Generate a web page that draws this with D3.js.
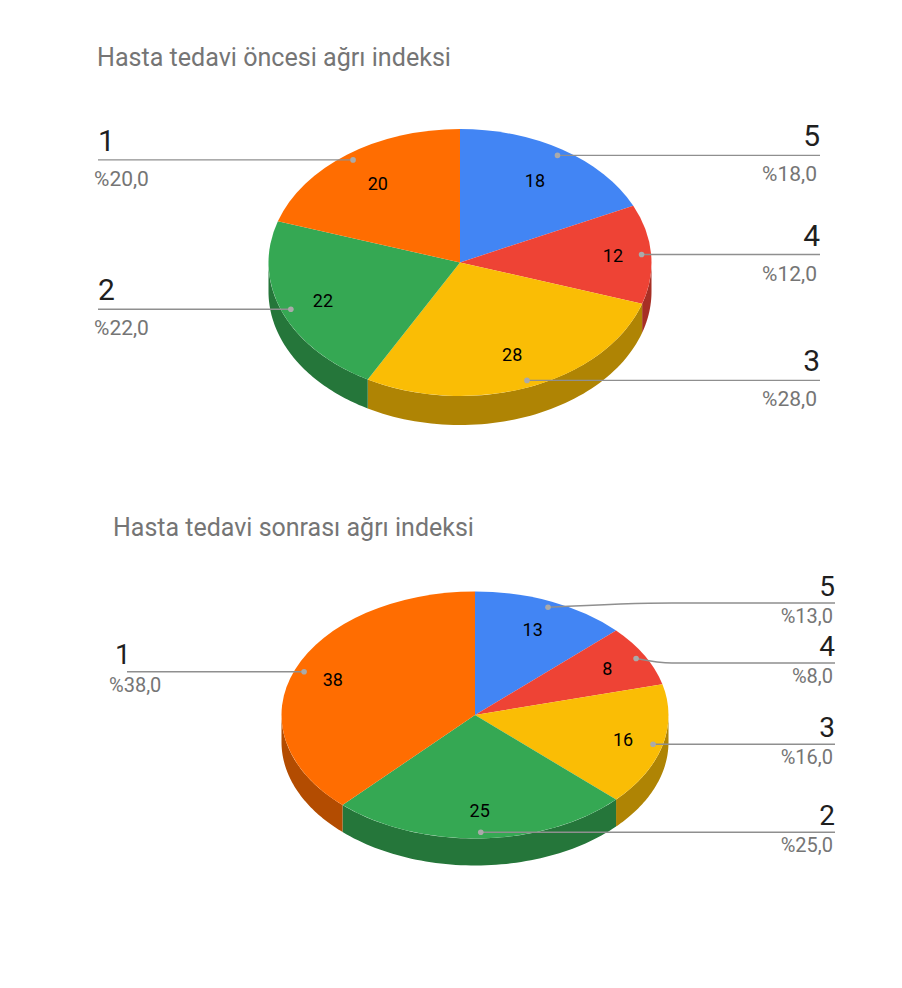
<!DOCTYPE html>
<html>
<head>
<meta charset="utf-8">
<script src="https://cdn.jsdelivr.net/npm/d3@7"></script>
<style>
  html, body { margin: 0; padding: 0; background: #fff; }
  text { font-family: Roboto, sans-serif; }
</style>
</head>
<body>
<svg id="chart" width="902" height="988"></svg>
<script>
// slices run clockwise from 12 o'clock
var categories = ["5", "4", "3", "2", "1"];
var valuesBefore = [18, 12, 28, 22, 20];
var valuesAfter = [13, 8, 16, 25, 38];
var percentBefore = ["%18,0", "%12,0", "%28,0", "%22,0", "%20,0"];
var percentAfter = ["%13,0", "%8,0", "%16,0", "%25,0", "%38,0"];
var colors = ["#4285f4", "#ee4335", "#fabd05", "#35a853", "#ff6d01"];

var charts = [
    {
        title: "Hasta tedavi öncesi ağrı indeksi", titleX: 97, titleY: 66, titleSize: 25.1,
        values: valuesBefore, percents: percentBefore,
        cx: 460, cy: 262.5, rx: 191.5, ry: 133.5, depth: 29,
        valueR: [0.73, 0.80, 0.74, 0.77, 0.73],
        lineY: [155, 255, 381, 309, 160],
        leftX: 98, rightX: 820, bendX: 672, nameDy: -9, pctDy: 26, nameSize: 30, pctSize: 21,
        pctLeftX: 94, pctRightX: 817, nameLeftX: 98
    },
    {
        title: "Hasta tedavi sonrası ağrı indeksi", titleX: 113, titleY: 536, titleSize: 25,
        values: valuesAfter, percents: percentAfter,
        cx: 475, cy: 715, rx: 193.5, ry: 123.5, depth: 27,
        valueR: [0.75, 0.78, 0.79, 0.77, 0.79],
        lineY: [603, 663, 744, 832, 672],
        leftX: 127, rightX: 835, bendX: 672, nameDy: -7.5, pctDy: 20, nameSize: 28, pctSize: 20,
        pctLeftX: 109, pctRightX: 833, nameLeftX: 115
    }
];

var svg = d3.select("#chart");
var pie = d3.pie().sort(null).value(function (d) { return d; });

charts.forEach(drawChart);

function drawChart(c) {
    var g = svg.append("g");
    var arcs = pie(c.values);
    // unit circle squashed into an ellipse
    var rScale = d3.scaleLinear().domain([0, 1]).range([0, c.rx]);
    var arc = d3.arc().innerRadius(0).outerRadius(rScale(1));

    function px(a, r) { return c.cx + c.rx * r * Math.sin(a); }
    function py(a, r) { return c.cy - c.ry * r * Math.cos(a); }

    g.append("text")
        .attr("x", c.titleX).attr("y", c.titleY)
        .attr("font-size", c.titleSize).attr("fill", "#757575")
        .text(c.title);

    // side wall, only the front half of the rim shows
    arcs.forEach(function (d, i) {
        var a0 = Math.max(d.startAngle, Math.PI / 2);
        var a1 = Math.min(d.endAngle, Math.PI * 1.5);
        if (a1 <= a0) return;
        var rim = d3.range(0, 61).map(function (k) {
            var a = a0 + (a1 - a0) * k / 60;
            return [px(a, 1), py(a, 1)];
        });
        var pts = rim.concat(rim.slice().reverse().map(function (p) { return [p[0], p[1] + c.depth]; }));
        g.append("path")
            .attr("d", d3.line()(pts) + "Z")
            .attr("fill", wallColor(colors[i]));
    });

    // top face
    g.append("g")
        .attr("transform", "translate(" + c.cx + "," + c.cy + ") scale(1," + (c.ry / c.rx) + ")")
        .selectAll("path").data(arcs).enter().append("path")
        .attr("d", arc)
        .attr("fill", function (d, i) { return colors[i]; });

    // value inside slice
    g.selectAll("text.value").data(arcs).enter().append("text")
        .attr("class", "value")
        .attr("x", function (d, i) { return px(mid(d), c.valueR[i]); })
        .attr("y", function (d, i) { return py(mid(d), c.valueR[i]) + 6.5; })
        .attr("text-anchor", "middle").attr("font-size", 18).attr("fill", "#000")
        .text(function (d) { return d.data; });

    // leaders and outside labels
    arcs.forEach(function (d, i) {
        var a = mid(d);
        var x0 = px(a, 0.95), y0 = py(a, 0.95);
        var right = a < Math.PI;
        var xEnd = right ? c.rightX : c.leftX;
        var yEnd = c.lineY[i];
        var pts = [[x0, y0]];
        if (Math.abs(yEnd - y0) > 2.5) {
            pts.push([c.bendX, yEnd]);
        } else {
            yEnd = y0;
        }
        pts.push([xEnd, yEnd]);

        g.append("path")
            .attr("d", d3.line().curve(d3.curveMonotoneX)(pts.slice().sort(function (p, q) { return p[0] - q[0]; })))
            .attr("fill", "none").attr("stroke", "#8f8f8f").attr("stroke-width", 1.4);
        g.append("circle")
            .attr("cx", x0).attr("cy", y0).attr("r", 2.8).attr("fill", "#aaaaaa");

        g.append("text")
            .attr("x", right ? c.rightX : c.nameLeftX).attr("y", yEnd + c.nameDy)
            .attr("text-anchor", right ? "end" : "start")
            .attr("font-size", c.nameSize).attr("fill", "#1f1f1f")
            .text(categories[i]);
        g.append("text")
            .attr("x", right ? c.pctRightX : c.pctLeftX).attr("y", yEnd + c.pctDy)
            .attr("text-anchor", right ? "end" : "start")
            .attr("font-size", c.pctSize).attr("fill", "#757575")
            .text(c.percents[i]);
    });
}

function mid(d) { return (d.startAngle + d.endAngle) / 2; }

function wallColor(col) {
    var k = d3.rgb(col);
    return d3.rgb(k.r * 0.7, k.g * 0.7, k.b * 0.7).formatHex();
}
</script>
</body>
</html>
